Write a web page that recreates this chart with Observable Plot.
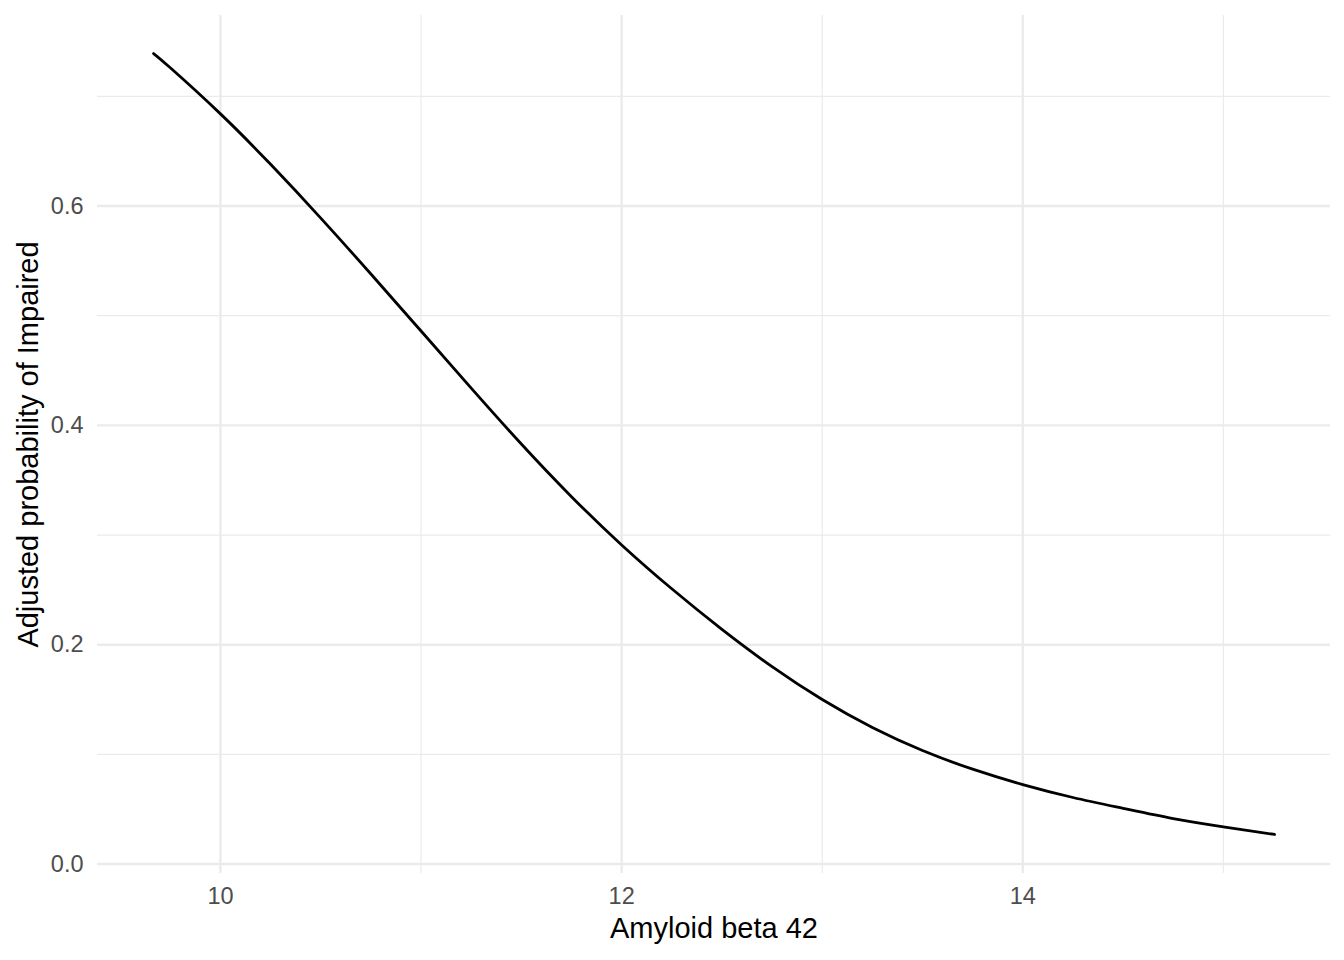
<!DOCTYPE html>
<html>
<head>
<meta charset="utf-8">
<script src="https://cdn.jsdelivr.net/npm/d3@7"></script>
<script src="https://cdn.jsdelivr.net/npm/@observablehq/plot@0.6"></script>
<style>
  html, body { margin: 0; padding: 0; background: #ffffff; }
  #chart { width: 1344px; height: 960px; }
</style>
</head>
<body>
<div id="chart"></div>
<script>
// Values
const amyloid = [9.6665, 9.75, 10, 10.25, 10.5, 10.75, 11, 11.25, 11.5, 11.75, 12, 12.25, 12.5, 12.75, 13, 13.25, 13.5, 13.75, 14, 14.25, 14.5, 14.75, 15, 15.255];
const probImpaired = [0.739, 0.726, 0.684, 0.638, 0.589, 0.538, 0.486, 0.434, 0.383, 0.335, 0.291, 0.251, 0.214, 0.180, 0.150, 0.1245, 0.1035, 0.0865, 0.0725, 0.0607, 0.0508, 0.0415, 0.0340, 0.0270];

const xMajorTicks = [10, 12, 14];
const xMinorTicks = [11, 13, 15];
const yMajorTicks = [0, 0.2, 0.4, 0.6];
const yMinorTicks = [0.1, 0.3, 0.5, 0.7];

const xTitle = "Amyloid beta 42";
const yTitle = "Adjusted probability of Impaired";

const data = amyloid.map((x, i) => ({x, y: probImpaired[i]}));

const gridColor = "#ebebeb";

const chart = Plot.plot({
  width: 1344,
  height: 960,
  marginLeft: 97,
  marginRight: 14,
  marginTop: 15,
  marginBottom: 87,
  style: {fontFamily: "'Liberation Sans', Arial, sans-serif", fontSize: "23.5px", background: "#ffffff"},
  x: {domain: [9.387, 15.534]},
  y: {domain: [-0.0086, 0.7737]},
  marks: [
    Plot.ruleY(yMinorTicks, {stroke: gridColor, strokeWidth: 1.2}),
    Plot.ruleX(xMinorTicks, {stroke: gridColor, strokeWidth: 1.2}),
    Plot.ruleY(yMajorTicks, {stroke: gridColor, strokeWidth: 2.4}),
    Plot.ruleX(xMajorTicks, {stroke: gridColor, strokeWidth: 2.4}),
    Plot.axisY({ticks: yMajorTicks, tickFormat: d3.format(".1f"), tickSize: 0, tickPadding: 14, label: null, fill: "#4d4d4d", fontSize: 23.5}),
    Plot.axisX({ticks: xMajorTicks, tickFormat: d3.format("d"), tickSize: 0, tickPadding: 14, label: null, fill: "#4d4d4d", fontSize: 23.5}),
    Plot.line(data, {x: "x", y: "y", stroke: "#000000", strokeWidth: 2.8, curve: "natural"}),
    Plot.text([xTitle], {frameAnchor: "bottom", text: d => d, dy: 64, lineAnchor: "bottom", textAnchor: "middle", fontSize: 29, fill: "#000000"}),
    Plot.text([yTitle], {frameAnchor: "left", text: d => d, dx: -60, rotate: -90, lineAnchor: "bottom", textAnchor: "middle", fontSize: 29, fill: "#000000"})
  ]
});

document.getElementById("chart").appendChild(chart);
</script>
</body>
</html>
